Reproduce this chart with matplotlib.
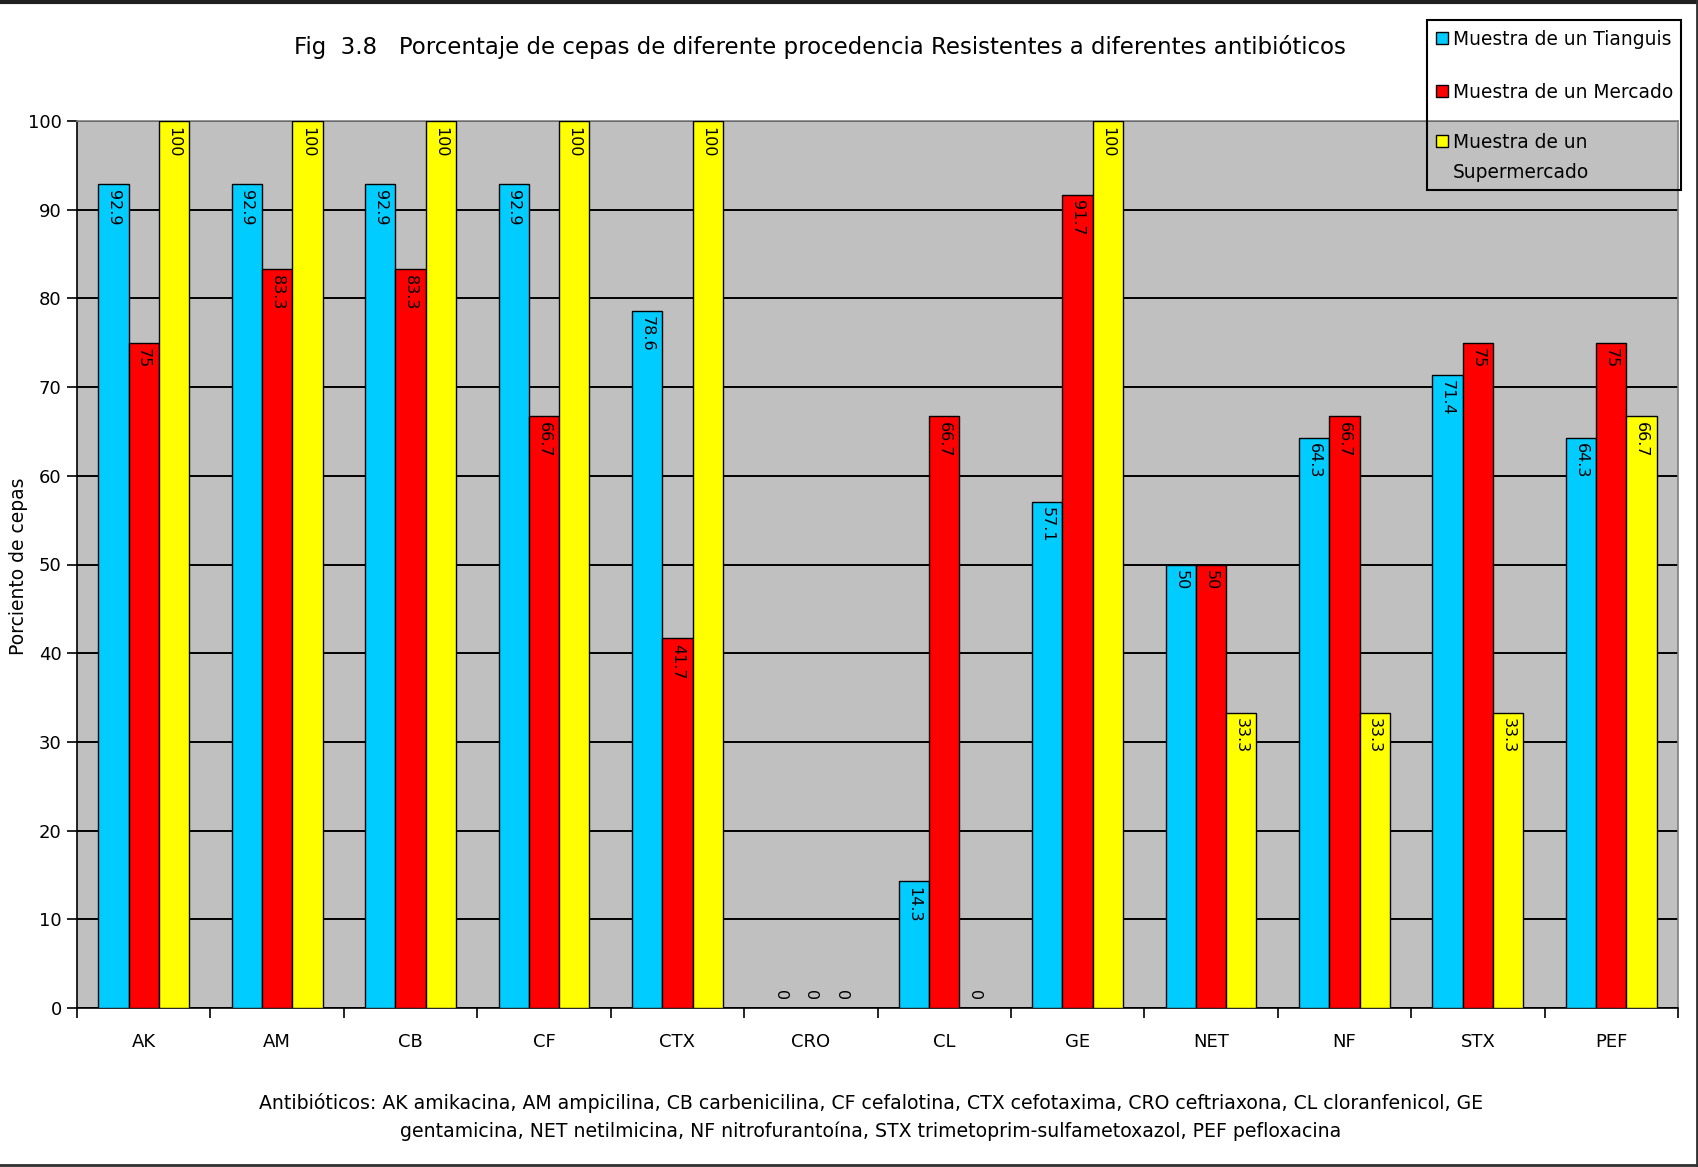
import numpy as np
import matplotlib.pyplot as plt
from matplotlib.lines import Line2D
from matplotlib.patches import Rectangle

plt.rcParams['font.family'] = ['DejaVu Sans']

antibioticos = ["AK", "AM", "CB", "CF", "CTX", "CRO", "CL", "GE", "NET", "NF", "STX", "PEF"]
tianguis = [92.9, 92.9, 92.9, 92.9, 78.6, 0, 14.3, 57.1, 50, 64.3, 71.4, 64.3]
mercado = [75, 83.3, 83.3, 66.7, 41.7, 0, 66.7, 91.7, 50, 66.7, 75, 75]
supermercado = [100, 100, 100, 100, 100, 0, 0, 100, 33.3, 33.3, 33.3, 66.7]
series_names = ["Muestra de un Tianguis", "Muestra de un Mercado",
                "Muestra de un\nSupermercado"]
colores = ["#00CCFF", "#FF0000", "#FFFF00"]

titulo = "Fig  3.8   Porcentaje de cepas de diferente procedencia Resistentes a diferentes antibióticos"
nota = ("Antibióticos: AK amikacina, AM ampicilina, CB carbenicilina, CF cefalotina, CTX cefotaxima, "
        "CRO ceftriaxona, CL cloranfenicol, GE\n"
        "gentamicina, NET netilmicina, NF nitrofurantoína, STX trimetoprim-sulfametoxazol, PEF pefloxacina")

W, H = 1698, 1167
fig = plt.figure(figsize=(W / 100, H / 100), dpi=100)


def fx(px):
    return px / W


def fy(py):
    return 1 - py / H


# plot area in pixel coordinates
x0, x1, y_top, y_bot = 77, 1678, 121, 1008
ax = fig.add_axes([fx(x0), fy(y_bot), (x1 - x0) / W, (y_bot - y_top) / H])
ax.set_facecolor("#C0C0C0")

n = len(antibioticos)
x = np.arange(n)
ancho = 0.227
for i, (vals, col) in enumerate(zip([tianguis, mercado, supermercado], colores)):
    pos = x + (i - 1) * ancho
    ax.bar(pos, vals, ancho, color=col, edgecolor="black", linewidth=1.0, zorder=3)
    for xp, v in zip(pos, vals):
        txt = f"{v:g}"
        if v > 0:
            ax.annotate(txt, (xp, v), xytext=(0, -4), textcoords="offset points",
                        rotation=270, ha="center", va="top", fontsize=11.5, zorder=4)
        else:
            ax.annotate(txt, (xp, v), xytext=(0, 6), textcoords="offset points",
                        rotation=270, ha="center", va="bottom", fontsize=11.5, zorder=4)

ax.set_xlim(-0.5, n - 0.5)
ax.set_ylim(0, 100)
ax.set_yticks(np.arange(0, 101, 10))
ax.yaxis.grid(True, color="black", linewidth=1.4, zorder=1)
ax.set_axisbelow(True)

ax.set_xticks(np.arange(-0.5, n, 1.0))
ax.set_xticklabels([])
ax.set_xticks(x, minor=True)
ax.set_xticklabels(antibioticos, minor=True, fontsize=13)
ax.tick_params(axis="x", which="minor", length=0, pad=18)
ax.tick_params(axis="x", which="major", length=7, width=1.2, direction="out")
ax.tick_params(axis="y", length=7, width=1.2, direction="out", labelsize=13, pad=4)

for s in ["top", "right"]:
    ax.spines[s].set_color("#808080")
    ax.spines[s].set_linewidth(1.2)
ax.spines["left"].set_linewidth(1.2)
ax.spines["bottom"].set_linewidth(1.2)

fig.text(fx(19), fy(566), "Porciento de cepas", rotation=90, ha="center",
         va="center", fontsize=13.5)
fig.text(fx(820), fy(47), titulo, ha="center", va="center", fontsize=16.5)
fig.text(fx(871), fy(1117), nota, ha="center", va="center", fontsize=13.6,
         linespacing=1.55)

# legend box drawn in pixel positions
fig.add_artist(Rectangle((fx(1427), fy(190)), (1681 - 1427) / W, (190 - 20) / H,
                         transform=fig.transFigure, facecolor="none",
                         edgecolor="black", linewidth=1.5, zorder=5))
leg_y = [38, 91, 141]
for name, col, yy in zip(series_names, colores, leg_y):
    fig.add_artist(Rectangle((fx(1436), fy(yy + 6)), 12 / W, 12 / H,
                             transform=fig.transFigure, facecolor=col,
                             edgecolor="black", linewidth=1.0, zorder=6))
    fig.text(fx(1453), fy(yy - 8), name, ha="left", va="top", fontsize=13.4,
             linespacing=1.7, zorder=6)

# outer frame of the figure
fig.add_artist(Line2D([0, 1], [fy(2), fy(2)], color="#202020", linewidth=3,
                      transform=fig.transFigure))
fig.add_artist(Line2D([0, 1], [fy(1165), fy(1165)], color="#303030", linewidth=2,
                      transform=fig.transFigure))
fig.add_artist(Line2D([fx(1696.5), fx(1696.5)], [0, 1], color="#303030", linewidth=2,
                      transform=fig.transFigure))

fig.savefig("out.png", dpi=100)
